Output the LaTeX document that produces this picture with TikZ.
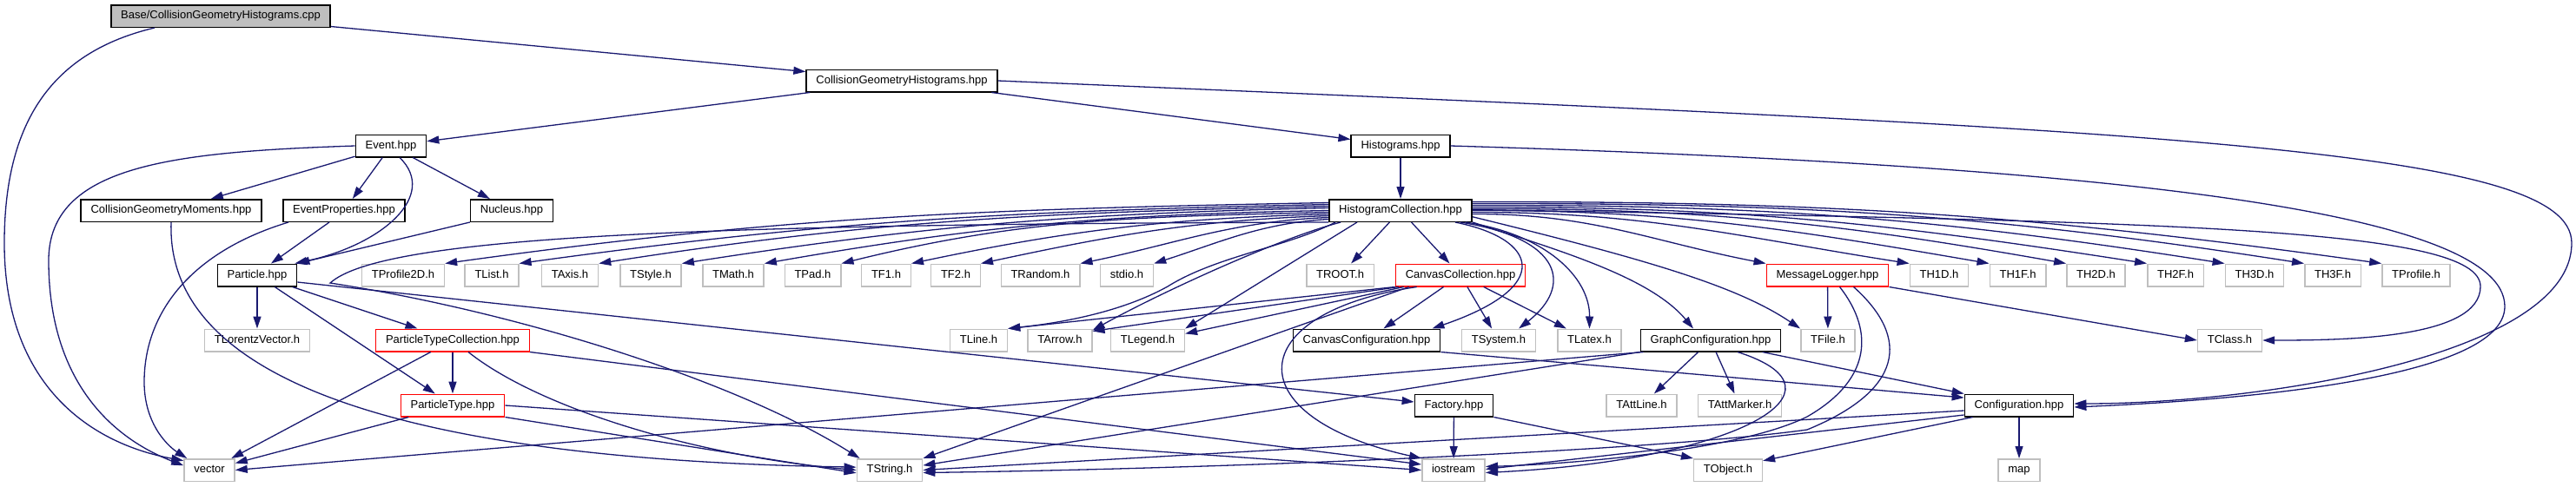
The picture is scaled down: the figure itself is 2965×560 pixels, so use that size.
\documentclass[tikz,border=0pt]{standalone}
\usepackage{fontspec}
\setmainfont{Liberation Sans}
\usetikzlibrary{arrows.meta}
\definecolor{edgeblue}{HTML}{191970}
\definecolor{boxgrey}{HTML}{BFBFBF}
\begin{document}
\begin{tikzpicture}[x=1pt, y=1pt, >={Triangle[length=14pt,width=9pt]},
  box/.style={rectangle, line width=1.5pt, fill=white, minimum height=25.5pt,
    inner xsep=11.3pt, inner ysep=0pt, text height=9.3pt, text depth=2.7pt,
    font=\fontsize{13}{15}\selectfont},
  hdr/.style={box, draw=black},
  trunc/.style={box, draw=red},
  sys/.style={box, draw=boxgrey},
  top/.style={box, draw=black, fill=boxgrey},
  dep/.style={->, draw=edgeblue, line width=1.3pt}]
\useasboundingbox (0,0) rectangle (2965,-560);
% files
\node[top] (base) at (254,-18.5) {Base/CollisionGeometryHistograms.cpp};
\node[hdr] (cgh) at (1038,-93) {CollisionGeometryHistograms.hpp};
\node[hdr] (event) at (450,-168) {Event.hpp};
\node[hdr] (hist) at (1612,-168) {Histograms.hpp};
\node[hdr] (cgm) at (197,-242.5) {CollisionGeometryMoments.hpp};
\node[hdr] (evprop) at (396,-242.5) {EventProperties.hpp};
\node[hdr] (nucleus) at (589,-242.5) {Nucleus.hpp};
\node[hdr] (hc) at (1612,-242.5) {HistogramCollection.hpp};
\node[hdr] (particle) at (296,-317) {Particle.hpp};
\node[sys] (tprof2d) at (464,-317) {TProfile2D.h};
\node[sys] (tlist) at (566,-317) {TList.h};
\node[sys] (taxis) at (656,-317) {TAxis.h};
\node[sys] (tstyle) at (749,-317) {TStyle.h};
\node[sys] (tmath) at (844,-317) {TMath.h};
\node[sys] (tpad) at (935.5,-317) {TPad.h};
\node[sys] (tfone) at (1020,-317) {TF1.h};
\node[sys] (tftwo) at (1100,-317) {TF2.h};
\node[sys] (trandom) at (1197.5,-317) {TRandom.h};
\node[sys] (stdio) at (1297,-317) {stdio.h};
\node[sys] (troot) at (1542.5,-317) {TROOT.h};
\node[trunc] (cancoll) at (1681,-317) {CanvasCollection.hpp};
\node[trunc] (msglog) at (2103.5,-317) {MessageLogger.hpp};
\node[sys] (thoned) at (2232,-317) {TH1D.h};
\node[sys] (thonef) at (2322.5,-317) {TH1F.h};
\node[sys] (thtwod) at (2412.5,-317) {TH2D.h};
\node[sys] (thtwof) at (2504,-317) {TH2F.h};
\node[sys] (ththreed) at (2595,-317) {TH3D.h};
\node[sys] (ththreef) at (2685,-317) {TH3F.h};
\node[sys] (tprofile) at (2781,-317) {TProfile.h};
\node[sys] (tlorentz) at (296,-392) {TLorentzVector.h};
\node[trunc] (ptc) at (521,-392) {ParticleTypeCollection.hpp};
\node[sys] (tline) at (1126.5,-392) {TLine.h};
\node[sys] (tarrow) at (1220,-392) {TArrow.h};
\node[sys] (tlegend) at (1321,-392) {TLegend.h};
\node[hdr] (canconf) at (1573,-392) {CanvasConfiguration.hpp};
\node[sys] (tsystem) at (1725,-392) {TSystem.h};
\node[sys] (tlatex) at (1829.5,-392) {TLatex.h};
\node[hdr] (graphconf) at (1969,-392) {GraphConfiguration.hpp};
\node[sys] (tfile) at (2104,-392) {TFile.h};
\node[sys] (tclass) at (2566.5,-392) {TClass.h};
\node[trunc] (ptype) at (521,-467) {ParticleType.hpp};
\node[hdr] (factory) at (1673.5,-467) {Factory.hpp};
\node[sys] (tattline) at (1889.5,-467) {TAttLine.h};
\node[sys] (tattmarker) at (2002.5,-467) {TAttMarker.h};
\node[hdr] (config) at (2324,-467) {Configuration.hpp};
\node[sys] (vector) at (241,-541.5) {vector};
\node[sys] (tstring) at (1024,-541.5) {TString.h};
\node[sys] (iostream) at (1673,-541.5) {iostream};
\node[sys] (tobject) at (1989,-541.5) {TObject.h};
\node[sys] (map) at (2324,-541.5) {map};
% includes of the source and the top headers
\draw[dep] (base) -- (cgh);
\draw[dep] ([xshift=-76pt]base.south) .. controls (60,-60) and (5,-140) .. (5,-280) .. controls (5,-440) and (100,-510) .. (vector.160);
\draw[dep] (cgh) -- (event);
\draw[dep] (cgh) -- (hist);
\draw[dep] (cgh.east) .. controls (2500,-150) and (2960,-170) .. (2960,-280) .. controls (2960,-410) and (2600,-465) .. ([yshift=2pt]config.east);
\draw[dep] (hist) -- (hc);
\draw[dep] (hist.east) .. controls (2400,-190) and (2883,-240) .. (2883,-353) .. controls (2883,-440) and (2550,-462) .. ([yshift=-2pt]config.east);
\draw[dep] (event.west) .. controls (200,-175) and (56,-190) .. (56,-300) .. controls (56,-440) and (130,-505) .. (vector.170);
\draw[dep] (event) -- (cgm);
\draw[dep] (event) -- (evprop);
\draw[dep] (event) -- (nucleus);
\draw[dep] ([xshift=10pt]event.south) .. controls (505,-225) and (440,-282) .. ([xshift=-3pt]particle.north east);
\draw[dep] (cgm.south) .. controls (190,-450) and (500,-530) .. (tstring.175);
\draw[dep] ([xshift=-17pt]evprop.south) -- ([xshift=16pt]particle.north);
\draw[dep] ([xshift=-64pt]evprop.south) .. controls (220,-290) and (166,-360) .. (166,-440) .. controls (166,-490) and (195,-515) .. ([xshift=4pt]vector.north west);
\draw[dep] (nucleus.south west) -- (particle.north east);
% Particle.hpp
\draw[dep] (particle) -- (tlorentz);
\draw[dep] (particle) -- (ptc);
\draw[dep] (particle) -- (ptype);
\draw[dep] ([yshift=-8pt]particle.east) -- ([yshift=4pt]factory.west);
\draw[dep] (ptc) -- (ptype);
\draw[dep] (ptc) -- (vector);
\draw[dep] ([xshift=18pt]ptc.south) .. controls (620,-470) and (800,-525) .. (tstring.west);
\draw[dep] (ptc.south east) -- (iostream.170);
\draw[dep] (ptype) -- (vector);
\draw[dep] (ptype.south east) -- (tstring.185);
\draw[dep] (ptype.east) -- (iostream.west);
% HistogramCollection.hpp, left side
\draw[dep] ([yshift=9pt]hc.west) .. controls (1131,-241) and (905,-249) .. (tprof2d.north east);
\draw[dep] ([yshift=7pt]hc.west) .. controls (1166,-243) and (957,-254) .. (tlist.north east);
\draw[dep] ([yshift=5pt]hc.west) .. controls (1201,-245) and (1013,-253) .. (taxis.north east);
\draw[dep] ([yshift=3pt]hc.west) .. controls (1238,-246) and (1071,-259) .. (tstyle.north east);
\draw[dep] (hc.west) .. controls (1275,-247) and (1129,-260) .. (tmath.north east);
\draw[dep] ([yshift=-2pt]hc.west) .. controls (1310,-250) and (1180,-251) .. (tpad.north east);
\draw[dep] ([yshift=-4pt]hc.west) .. controls (1341,-252) and (1232,-265) .. (tfone.north east);
\draw[dep] ([yshift=-6pt]hc.west) .. controls (1372,-254) and (1281,-271) .. (tftwo.north east);
\draw[dep] ([yshift=-8pt]hc.west) .. controls (1417,-255) and (1353,-281) .. (trandom.north east);
\draw[dep] ([yshift=-10pt]hc.west) .. controls (1451,-257) and (1402,-280) .. (stdio.north east);
\draw[dep] (hc.south west) .. controls (800,-258) and (440,-272) .. (380,-326) .. controls (600,-360) and (850,-440) .. ([xshift=4pt]tstring.north west);
\draw[dep] ([xshift=8pt]hc.south west) .. controls (1480,-285) and (1400,-295) .. (1344,-330) .. controls (1290,-360) and (1220,-372) .. (tline.north east);
\draw[dep] ([xshift=14pt]hc.south west) .. controls (1470,-275) and (1330,-340) .. ([yshift=-2pt]tarrow.north east);
\draw[dep] ([xshift=-50pt]hc.south) -- (tlegend.north east);
\draw[dep] (hc) -- (troot);
\draw[dep] (hc) -- (cancoll);
% HistogramCollection.hpp, right side
\draw[dep] ([xshift=-20pt]hc.south east) .. controls (1770,-275) and (1790,-330) .. ([xshift=-10pt]canconf.north east);
\draw[dep] ([xshift=-14pt]hc.south east) .. controls (1800,-275) and (1810,-330) .. ([xshift=-20pt]tsystem.north east);
\draw[dep] ([xshift=-8pt]hc.south east) .. controls (1780,-270) and (1830,-320) .. (tlatex.north);
\draw[dep] (hc.south east) .. controls (1800,-290) and (1900,-320) .. ([xshift=-20pt]graphconf.north);
\draw[dep] (hc.-5) .. controls (1900,-300) and (2000,-330) .. (tfile.north west);
\draw[dep] ([yshift=-4pt]hc.east) .. controls (1832,-246) and (1900,-278) .. (msglog.north west);
\draw[dep] ([yshift=-2pt]hc.east) .. controls (1893,-244) and (2002,-273) .. (thoned.north west);
\draw[dep] (hc.east) .. controls (1928,-242) and (2060,-264) .. (thonef.north west);
\draw[dep] ([yshift=2pt]hc.east) .. controls (1963,-240) and (2115,-257) .. (thtwod.north west);
\draw[dep] ([yshift=4pt]hc.east) .. controls (1999,-238) and (2172,-257) .. (thtwof.north west);
\draw[dep] ([yshift=6pt]hc.east) .. controls (2033,-236) and (2227,-251) .. (ththreed.north west);
\draw[dep] ([yshift=8pt]hc.east) .. controls (2069,-234) and (2284,-246) .. (ththreef.north west);
\draw[dep] ([yshift=10pt]hc.east) .. controls (2104,-232) and (2337,-247) .. (tprofile.north west);
\draw[dep] ([yshift=1pt]hc.east) .. controls (2500,-255) and (2855,-262) .. (2855,-330) .. controls (2855,-390) and (2700,-392) .. (tclass.east);
% CanvasCollection.hpp
\draw[dep] (cancoll.south west) -- (tline.north east);
\draw[dep] ([xshift=4pt]cancoll.south west) -- ([yshift=-3pt]tarrow.north east);
\draw[dep] ([xshift=10pt]cancoll.south west) -- (tlegend.10);
\draw[dep] ([xshift=16pt]cancoll.south west) -- (tstring.north east);
\draw[dep] ([xshift=25pt]cancoll.south west) .. controls (1430,-360) and (1420,-480) .. (iostream.north west);
\draw[dep] (cancoll) -- (canconf);
\draw[dep] (cancoll) -- (tsystem);
\draw[dep] (cancoll) -- (tlatex);
\draw[dep] (canconf.south east) -- (config.172);
% GraphConfiguration.hpp
\draw[dep] ([xshift=4pt]graphconf.south west) -- (vector.east);
\draw[dep] (graphconf.south west) -- (tstring.8);
\draw[dep] (graphconf) -- (tattline);
\draw[dep] (graphconf) -- (tattmarker);
\draw[dep] ([xshift=31pt]graphconf.south) .. controls (2140,-450) and (2000,-530) .. ([yshift=-3pt]iostream.east);
\draw[dep] ([xshift=-22pt]graphconf.south east) -- (config.north west);
% MessageLogger.hpp
\draw[dep] (msglog) -- (tfile);
\draw[dep] (msglog.south east) -- (tclass.west);
\draw[dep] ([xshift=14pt]msglog.south) .. controls (2160,-385) and (2150,-440) .. (2080,-480) .. controls (2000,-520) and (1800,-535) .. ([yshift=4pt]iostream.east);
\draw[dep] ([xshift=30pt]msglog.south) .. controls (2200,-390) and (2190,-450) .. (2080,-495) .. controls (1900,-520) and (1400,-540) .. ([yshift=-3pt]tstring.east);
% Configuration.hpp and Factory.hpp
\draw[dep] ([yshift=-6pt]config.west) -- (tstring.east);
\draw[dep] ([yshift=-11pt]config.west) -- ([yshift=1pt]iostream.east);
\draw[dep] ([xshift=10pt]config.south west) -- (tobject.15);
\draw[dep] (config) -- (map);
\draw[dep] (factory) -- (iostream);
\draw[dep] (factory.south east) -- (tobject.north west);
\end{tikzpicture}
\end{document}
